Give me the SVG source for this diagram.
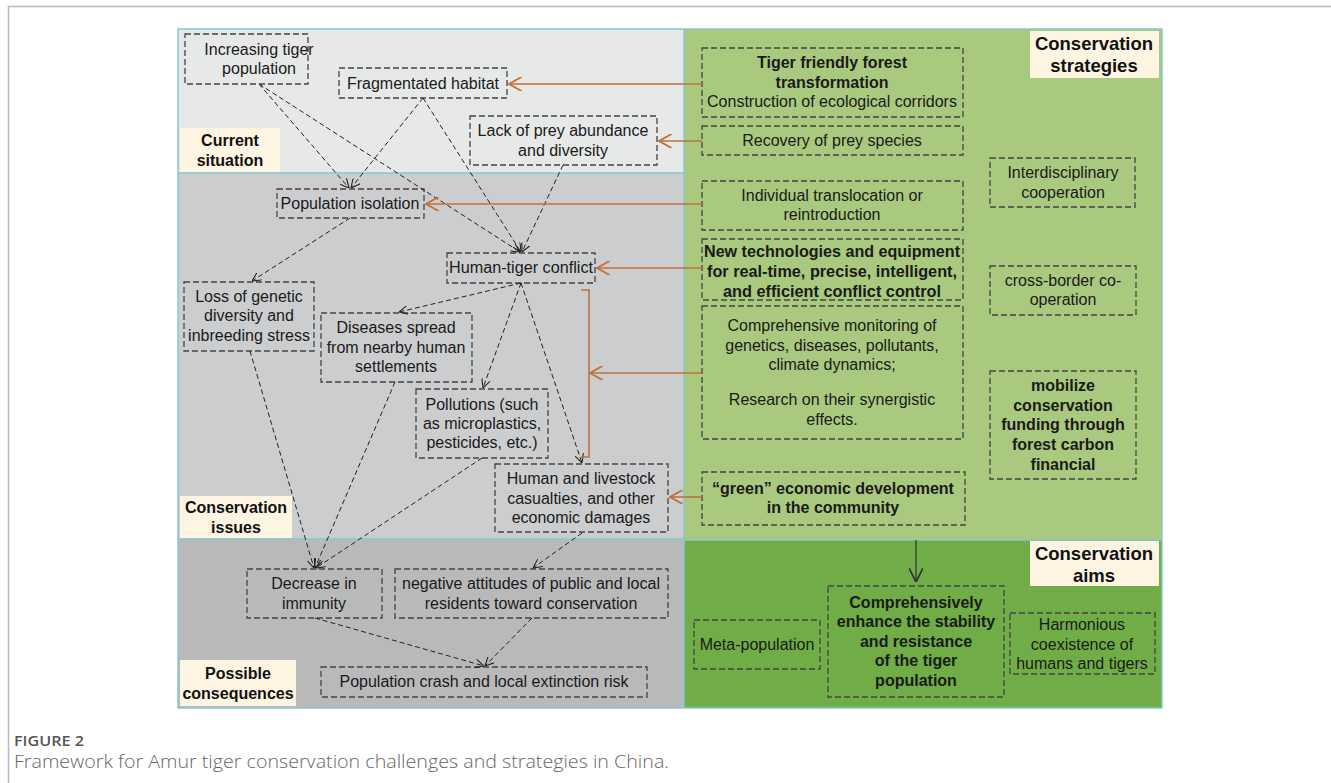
<svg xmlns="http://www.w3.org/2000/svg" width="1331" height="783" viewBox="0 0 1331 783">
<defs>
<style>
.t{font-family:"Liberation Sans",Arial,sans-serif;font-size:16px;fill:#1a1a1a;text-anchor:middle}
.b{font-weight:bold}
.lab{font-family:"Liberation Sans",Arial,sans-serif;font-size:16px;font-weight:bold;fill:#111;text-anchor:middle}
.lab2{font-size:18.5px}
.box{fill:none;stroke:#444;stroke-width:1.3;stroke-dasharray:6 3}
.c{fill:none;stroke:#222;stroke-width:1;stroke-dasharray:5 3;marker-end:url(#ah)}
.o{fill:none;stroke:#c0703a;stroke-width:1.6;marker-end:url(#oh)}
.cap1{font-family:"Open Sans",sans-serif;font-size:14px;font-weight:600;fill:#555}
.cap2{font-family:"Open Sans",sans-serif;font-size:19px;fill:#666;font-weight:300}
</style>
<marker id="ah" viewBox="0 0 10 10" refX="10" refY="5" markerWidth="9" markerHeight="9" markerUnits="userSpaceOnUse" orient="auto"><path d="M0,0 L10,5 L0,10" fill="none" stroke="#222" stroke-width="1.2"/></marker>
<marker id="oh" viewBox="0 0 10 10" refX="9" refY="5" markerWidth="14" markerHeight="14" markerUnits="userSpaceOnUse" orient="auto"><path d="M0,0 L9,5 L0,10" fill="none" stroke="#c0703a" stroke-width="1.3"/></marker>
<marker id="kh" viewBox="0 0 10 10" refX="10" refY="5" markerWidth="14" markerHeight="14" markerUnits="userSpaceOnUse" orient="auto"><path d="M0,0 L10,5 L0,10" fill="none" stroke="#333" stroke-width="1.2"/></marker>
</defs>
<rect width="1331" height="783" fill="#fff"/>
<path d="M8.5,783 V6.5 H1331" fill="none" stroke="#b8b8c0" stroke-width="1.5"/>

<g id="panels">
<rect x="178" y="29" width="506" height="144" fill="#e7e8e8"/>
<rect x="178" y="173" width="506" height="366" fill="#cccdcf"/>
<rect x="178" y="539" width="506" height="169" fill="#b9b9ba"/>
<rect x="684" y="29" width="478" height="511" fill="#a9c97f"/>
<rect x="684" y="540" width="478" height="168" fill="#70ad46"/>
<g fill="none" stroke="#86c8cf" stroke-width="1.5">
<rect x="178" y="29" width="984" height="679"/>
<line x1="178" y1="173" x2="684" y2="173"/>
<line x1="178" y1="539" x2="684" y2="539"/>
<line x1="684" y1="29" x2="684" y2="708"/>
<line x1="684" y1="540" x2="1162" y2="540"/>
</g>
</g>

<g id="section-labels">
<rect x="180" y="128" width="100" height="44" fill="#fdf5e2"/>
<text class="lab" x="230" y="146">Current</text><text class="lab" x="230" y="166">situation</text>
<rect x="180" y="496" width="112" height="42" fill="#fdf5e2"/>
<text class="lab" x="236" y="513">Conservation</text><text class="lab" x="236" y="533">issues</text>
<rect x="180" y="660" width="116" height="46" fill="#fdf5e2"/>
<text class="lab" x="238" y="679">Possible</text><text class="lab" x="238" y="699">consequences</text>
<rect x="1030" y="31" width="129" height="47" fill="#fdf5e2"/>
<text class="lab lab2" x="1094" y="50">Conservation</text><text class="lab lab2" x="1094" y="72">strategies</text>
<rect x="1030" y="541" width="129" height="45" fill="#fdf5e2"/>
<text class="lab lab2" x="1094" y="560">Conservation</text><text class="lab lab2" x="1094" y="582">aims</text>
</g>

<g id="n-increasing"><rect class="box" x="185" y="34" width="123" height="50"/><text class="t" x="259" y="55">Increasing tiger</text><text class="t" x="259" y="74">population</text></g>
<g id="n-fragmented"><rect class="box" x="339" y="68" width="168" height="30"/><text class="t" x="423" y="89">Fragmentated habitat</text></g>
<g id="n-prey"><rect class="box" x="470" y="116" width="187" height="49"/><text class="t" x="563" y="136">Lack of prey abundance</text><text class="t" x="563" y="156">and diversity</text></g>
<g id="n-isolation"><rect class="box" x="277" y="189" width="147" height="29"/><text class="t" x="350" y="209">Population isolation</text></g>
<g id="n-conflict"><rect class="box" x="447" y="253" width="148" height="30"/><text class="t" x="521" y="273" textLength="144" lengthAdjust="spacingAndGlyphs">Human-tiger conflict</text></g>
<g id="n-genetic"><rect class="box" x="184" y="282" width="130" height="69"/><text class="t" x="249" y="302">Loss of genetic</text><text class="t" x="249" y="321">diversity and</text><text class="t" x="249" y="341">inbreeding stress</text></g>
<g id="n-diseases"><rect class="box" x="321" y="313" width="151" height="69"/><text class="t" x="396" y="333">Diseases spread</text><text class="t" x="396" y="353">from nearby human</text><text class="t" x="396" y="372">settlements</text></g>
<g id="n-pollution"><rect class="box" x="416" y="389" width="132" height="69"/><text class="t" x="482" y="410">Pollutions (such</text><text class="t" x="482" y="429">as microplastics,</text><text class="t" x="482" y="448">pesticides, etc.)</text></g>
<g id="n-casualties"><rect class="box" x="495" y="464" width="173" height="68"/><text class="t" x="581" y="484">Human and livestock</text><text class="t" x="581" y="504">casualties, and other</text><text class="t" x="581" y="523">economic damages</text></g>
<g id="n-immunity"><rect class="box" x="247" y="569" width="135" height="49"/><text class="t" x="314" y="589">Decrease in</text><text class="t" x="314" y="609">immunity</text></g>
<g id="n-attitudes"><rect class="box" x="395" y="569" width="273" height="49"/><text class="t" x="531" y="589">negative attitudes of public and local</text><text class="t" x="531" y="609">residents toward conservation</text></g>
<g id="n-crash"><rect class="box" x="321" y="667" width="326" height="30"/><text class="t" x="484" y="687">Population crash and local extinction risk</text></g>

<g id="s-forest"><rect class="box" x="702" y="48" width="261" height="69"/><text class="t b" x="832" y="68">Tiger friendly forest</text><text class="t b" x="832" y="88">transformation</text><text class="t" x="832" y="107">Construction of ecological corridors</text></g>
<g id="s-prey"><rect class="box" x="702" y="126" width="261" height="29"/><text class="t" x="832" y="146">Recovery of prey species</text></g>
<g id="s-translocation"><rect class="box" x="702" y="181" width="261" height="49"/><text class="t" x="832" y="201">Individual translocation or</text><text class="t" x="832" y="220">reintroduction</text></g>
<g id="s-tech"><rect class="box" x="702" y="239" width="261" height="61"/><text class="t b" x="832" y="257" textLength="256" lengthAdjust="spacingAndGlyphs">New technologies and equipment</text><text class="t b" x="832" y="277" textLength="250" lengthAdjust="spacingAndGlyphs">for real-time, precise, intelligent,</text><text class="t b" x="832" y="297" textLength="218" lengthAdjust="spacingAndGlyphs">and efficient conflict control</text></g>
<g id="s-monitoring"><rect class="box" x="702" y="306" width="261" height="133"/><text class="t" x="832" y="331">Comprehensive monitoring of</text><text class="t" x="832" y="351">genetics, diseases, pollutants,</text><text class="t" x="832" y="370">climate dynamics;</text><text class="t" x="832" y="405">Research on their synergistic</text><text class="t" x="832" y="425">effects.</text></g>
<g id="s-green"><rect class="box" x="702" y="472" width="263" height="53"/><text class="t b" x="833" y="494">“green” economic development</text><text class="t b" x="833" y="513">in the community</text></g>
<g id="s-interdisciplinary"><rect class="box" x="990" y="158" width="145" height="49"/><text class="t" x="1063" y="178">Interdisciplinary</text><text class="t" x="1063" y="198">cooperation</text></g>
<g id="s-crossborder"><rect class="box" x="990" y="266" width="146" height="49"/><text class="t" x="1063" y="286">cross-border co-</text><text class="t" x="1063" y="305">operation</text></g>
<g id="s-funding"><rect class="box" x="990" y="371" width="146" height="108"/><text class="t b" x="1063" y="391">mobilize</text><text class="t b" x="1063" y="411">conservation</text><text class="t b" x="1063" y="430">funding through</text><text class="t b" x="1063" y="450">forest carbon</text><text class="t b" x="1063" y="470">financial</text></g>

<g id="a-meta"><rect class="box" x="694" y="620" width="126" height="49"/><text class="t" x="757" y="650">Meta-population</text></g>
<g id="a-enhance"><rect class="box" x="828" y="586" width="176" height="111"/><text class="t b" x="916" y="608">Comprehensively</text><text class="t b" x="916" y="627">enhance the stability</text><text class="t b" x="916" y="647">and resistance</text><text class="t b" x="916" y="666">of the tiger</text><text class="t b" x="916" y="686">population</text></g>
<g id="a-harmonious"><rect class="box" x="1010" y="613" width="145" height="61"/><text class="t" x="1082" y="630">Harmonious</text><text class="t" x="1082" y="650">coexistence of</text><text class="t" x="1082" y="669">humans and tigers</text></g>

<g id="connectors">
<line class="c" x1="259" y1="84" x2="349" y2="188"/>
<line class="c" x1="259" y1="84" x2="520" y2="252"/>
<line class="c" x1="423" y1="98" x2="351" y2="188"/>
<line class="c" x1="423" y1="98" x2="521" y2="252"/>
<line class="c" x1="563" y1="165" x2="522" y2="252"/>
<line class="c" x1="350" y1="218" x2="252" y2="281"/>
<line class="c" x1="521" y1="283" x2="399" y2="312"/>
<line class="c" x1="521" y1="283" x2="483" y2="388"/>
<line class="c" x1="521" y1="283" x2="582" y2="463"/>
<line class="c" x1="250" y1="351" x2="314" y2="568"/>
<line class="c" x1="395" y1="382" x2="315" y2="568"/>
<line class="c" x1="482" y1="458" x2="316" y2="568"/>
<line class="c" x1="582" y1="533" x2="533" y2="568"/>
<line class="c" x1="315" y1="618" x2="484" y2="666"/>
<line class="c" x1="532" y1="618" x2="485" y2="666"/>
<line class="o" x1="702" y1="84" x2="509" y2="84"/>
<line class="o" x1="702" y1="141" x2="659" y2="141"/>
<line class="o" x1="702" y1="204" x2="426" y2="204"/>
<line class="o" x1="702" y1="268" x2="597" y2="268"/>
<line class="o" x1="702" y1="373" x2="590" y2="373"/>
<line class="o" x1="702" y1="497" x2="670" y2="497"/>
<path d="M581,290 H589 V457 H581" fill="none" stroke="#c0703a" stroke-width="1.6"/>
<line x1="916" y1="540" x2="916" y2="582" stroke="#333" stroke-width="1.2" marker-end="url(#kh)"/>
</g>

<g id="caption">
<text class="cap1" x="14" y="746" textLength="70" lengthAdjust="spacingAndGlyphs">FIGURE 2</text>
<text class="cap2" x="14" y="768" textLength="655" lengthAdjust="spacingAndGlyphs">Framework for Amur tiger conservation challenges and strategies in China.</text>
</g>
</svg>
